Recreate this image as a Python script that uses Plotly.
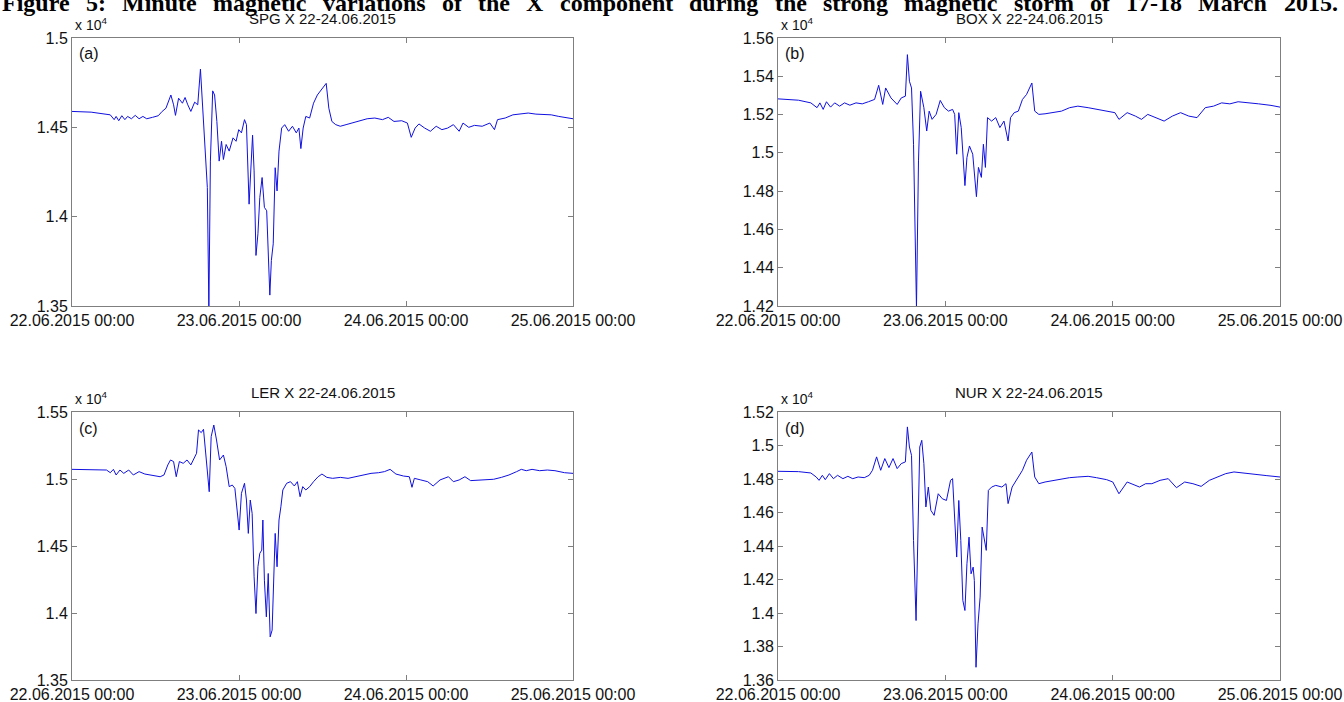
import plotly.graph_objects as go
import pandas as pd

# ---------------- data (hours after 22.06.2015 00:00, X component in nT) ----------------
spg_hours = [0, 2.75, 5.5, 6.06, 6.34, 6.72, 7.16, 7.6, 7.99, 8.54, 9.09, 9.64, 10.19, 10.74, 11.57, 12.4,
             12.95, 13.5, 14.21, 14.6, 14.87, 15.32, 15.87, 16.25, 16.64, 17.08, 17.63, 18.07, 18.46, 18.73,
             19.17, 19.45, 19.67, 19.89, 20.22, 20.49, 20.82, 21.15, 21.49, 21.76, 22.15, 22.59, 23.14, 23.58,
             23.96, 24.35, 24.79, 25.07, 25.45, 25.73, 25.95, 26.17, 26.44, 26.72, 26.99, 27.32, 27.65, 27.98,
             28.26, 28.43, 28.65, 28.92, 29.2, 29.47, 29.75, 30.13, 30.57, 31.13, 31.68, 32.23, 32.61, 32.89,
             33.22, 33.6, 34.15, 34.71, 35.26, 35.81, 36.25, 36.53, 36.91, 37.35, 37.9, 38.56, 39.39, 40.22,
             41.32, 42.42, 43.52, 44.62, 45.45, 46.28, 47.38, 48.2, 48.75, 49.31, 49.86, 50.68, 51.51, 52.34,
             53.16, 53.99, 54.81, 55.64, 56.19, 57.02, 57.84, 58.95, 60.05, 60.71, 61.15, 62.25, 63.36, 64.46,
             65.56, 66.67, 67.77, 68.87, 69.96, 71.07, 72]
spg_x = [14589, 14585, 14570, 14543, 14561, 14537, 14565, 14543, 14561, 14548, 14567, 14548, 14561, 14548, 14556, 14565,
         14589, 14607, 14681, 14626, 14567, 14663, 14635, 14667, 14626, 14589, 14641, 14626, 14826, 14644,
         14311, 14163, 13480, 14311, 14704, 14681, 14533, 14311, 14422, 14320, 14404, 14367, 14441, 14422,
         14487, 14469, 14543, 14515, 14070, 14311, 14456, 14256, 13783, 13904, 14107, 14219, 14052, 14033,
         13718, 13561, 13755, 13848, 14274, 14144, 14367, 14496, 14515, 14478, 14506, 14469, 14496, 14381,
         14496, 14561, 14552, 14635, 14681, 14709, 14737, 14746, 14607, 14533, 14515, 14506, 14515, 14524,
         14537, 14548, 14552, 14543, 14556, 14533, 14537, 14524, 14444, 14496, 14519, 14496, 14478, 14506,
         14487, 14496, 14515, 14478, 14524, 14500, 14511, 14506, 14524, 14487, 14543, 14552, 14570, 14574,
         14580, 14574, 14574, 14570, 14561, 14552, 14548]

box_hours = [0, 2.95, 4.71, 5.6, 6.01, 6.48, 6.95, 7.54, 8.13, 8.84, 9.54, 10.31, 11.19, 12.08, 12.96, 13.85,
             14.44, 15.02, 15.44, 16.2, 17.09, 17.68, 18.27, 18.56, 18.85, 19.15, 19.44, 19.86, 20.15, 20.45,
             20.92, 21.33, 21.68, 22.1, 22.68, 23.27, 23.86, 24.45, 25.04, 25.34, 25.63, 25.93, 26.28, 26.57,
             26.81, 27.1, 27.46, 27.93, 28.16, 28.46, 28.75, 29.17, 29.46, 29.75, 30.05, 30.64, 31.23, 31.82,
             32.41, 33.0, 33.35, 33.88, 34.47, 35.06, 35.65, 36.12, 36.41, 36.82, 37.41, 38.3, 39.48, 40.66,
             41.83, 43.01, 44.48, 45.96, 47.14, 48.32, 48.9, 50.08, 51.26, 52.14, 53.03, 54.21, 55.38, 56.56,
             57.74, 58.92, 60.1, 61.28, 62.46, 63.63, 64.81, 65.99, 67.17, 68.94, 70.71, 72]
box_x = [15282, 15275, 15261, 15236, 15261, 15227, 15267, 15239, 15261, 15244, 15261, 15249, 15261, 15256, 15267, 15279,
         15353, 15253, 15339, 15287, 15253, 15287, 15296, 15513, 15374, 15339, 15045, 14190, 14958, 15322,
         15236, 15114, 15218, 15175, 15201, 15274, 15236, 15218, 15227, 15201, 14993, 15210, 15132, 14941,
         14829, 14976, 15036, 14993, 14906, 14771, 14924, 14872, 15045, 14924, 15184, 15166, 15184, 15132,
         15166, 15062, 15184, 15210, 15218, 15279, 15305, 15339, 15365, 15218, 15201, 15204, 15210, 15218,
         15236, 15244, 15236, 15227, 15218, 15210, 15175, 15210, 15192, 15175, 15201, 15184, 15166, 15192,
         15210, 15192, 15184, 15236, 15244, 15261, 15256, 15267, 15261, 15256, 15248, 15239]

ler_hours = [0, 2.75, 4.96, 5.51, 5.95, 6.34, 6.89, 7.44, 8.15, 8.81, 9.64, 10.47, 11.29, 12.12, 12.67, 13.22,
             13.77, 14.16, 14.6, 14.98, 15.43, 15.98, 16.53, 17.08, 17.52, 17.9, 18.18, 18.57, 18.9, 19.17,
             19.45, 19.72, 20.0, 20.38, 20.77, 21.21, 21.76, 22.15, 22.59, 23.03, 23.41, 23.69, 24.02, 24.35,
             24.79, 25.07, 25.34, 25.62, 25.89, 26.17, 26.44, 26.72, 26.99, 27.27, 27.43, 27.65, 27.93, 28.2,
             28.48, 28.76, 28.98, 29.2, 29.47, 29.75, 30.02, 30.3, 30.85, 31.4, 31.95, 32.39, 32.78, 33.16,
             33.6, 34.16, 34.71, 35.37, 35.92, 36.63, 37.46, 38.56, 39.67, 40.77, 41.87, 42.97, 44.07, 44.9,
             45.72, 46.55, 47.65, 48.48, 48.86, 49.2, 50.13, 51.12, 51.9, 52.89, 54.1, 54.81, 55.64, 56.47,
             57.29, 58.4, 59.5, 60.6, 61.7, 62.8, 63.9, 64.57, 65.28, 66.11, 67.21, 68.31, 69.41, 70.79, 72]
ler_x = [15072, 15072, 15067, 15047, 15072, 15030, 15067, 15042, 15067, 15030, 15055, 15037, 15030, 15022, 15017, 15030,
         15105, 15142, 15130, 15017, 15130, 15117, 15142, 15105, 15154, 15192, 15366, 15346, 15371, 15204,
         15092, 14905, 15316, 15403, 15291, 15142, 15179, 15092, 14943, 14955, 14930, 14768, 14619, 14893,
         14968, 14843, 14594, 14843, 14743, 14270, 13996, 14345, 14445, 14469, 14694, 14245, 13971, 14295,
         13822, 13872, 14245, 14594, 14345, 14694, 14793, 14918, 14968, 14980, 14948, 14980, 14868, 14943,
         14918, 14943, 14980, 15017, 15037, 15012, 15005, 15012, 15005, 15017, 15030, 15042, 15047, 15055,
         15072, 15037, 15022, 15017, 14938, 15005, 14993, 14980, 14948, 14993, 15017, 14980, 14993, 15017,
         14988, 14993, 14998, 14998, 15012, 15030, 15055, 15072, 15062, 15072, 15062, 15067, 15062, 15047, 15042]

nur_hours = [0, 2.95, 4.71, 5.48, 5.89, 6.36, 6.78, 7.37, 7.95, 8.54, 9.31, 10.02, 10.72, 11.49, 12.37, 13.08,
             13.55, 14.14, 14.73, 15.32, 15.91, 16.5, 17.09, 17.68, 18.27, 18.56, 18.85, 19.15, 19.44, 19.8,
             20.03, 20.33, 20.62, 20.92, 21.21, 21.56, 21.92, 22.39, 22.98, 23.57, 24.16, 24.75, 25.04, 25.34,
             25.63, 25.93, 26.22, 26.51, 26.81, 27.1, 27.4, 27.69, 27.99, 28.16, 28.4, 28.69, 28.99, 29.28,
             29.58, 29.87, 30.17, 30.64, 31.23, 32.11, 32.7, 33.0, 33.58, 34.17, 35.06, 35.65, 36.41, 36.82,
             37.41, 38.3, 39.48, 40.66, 41.83, 43.01, 44.48, 45.66, 47.14, 48.02, 48.9, 50.08, 50.97, 51.85,
             52.73, 53.62, 54.8, 55.97, 57.15, 58.33, 59.51, 60.69, 61.87, 63.04, 64.22, 65.4, 66.58, 67.76,
             68.94, 70.12, 72]
nur_x = [14846, 14844, 14836, 14812, 14792, 14822, 14796, 14832, 14802, 14822, 14802, 14816, 14802, 14812, 14808, 14822,
         14852, 14932, 14852, 14922, 14868, 14922, 14862, 14892, 14902, 15111, 14991, 14941, 14433, 13955,
         14394, 14991, 15031, 14892, 14633, 14752, 14613, 14583, 14712, 14682, 14672, 14792, 14802, 14553,
         14334, 14672, 14433, 14075, 14015, 14294, 14453, 14234, 14274, 14194, 13676, 13935, 14095, 14513,
         14433, 14374, 14732, 14752, 14762, 14752, 14772, 14653, 14752, 14792, 14852, 14912, 14961, 14812,
         14772, 14782, 14792, 14802, 14808, 14812, 14816, 14808, 14796, 14782, 14712, 14782, 14768, 14752,
         14772, 14772, 14792, 14802, 14748, 14782, 14772, 14756, 14792, 14812, 14832, 14842, 14836, 14828,
         14822, 14820, 14812]

titles = ["SPG X 22-24.06.2015", "BOX X 22-24.06.2015", "LER X 22-24.06.2015", "NUR X 22-24.06.2015"]
panel_tags = ["(a)", "(b)", "(c)", "(d)"]
y_ticks = [
    [13500, 14000, 14500, 15000],
    [14200, 14400, 14600, 14800, 15000, 15200, 15400, 15600],
    [13500, 14000, 14500, 15000, 15500],
    [13600, 13800, 14000, 14200, 14400, 14600, 14800, 15000, 15200],
]
x_ticks = ["2015-06-22 00:00", "2015-06-23 00:00", "2015-06-24 00:00", "2015-06-25 00:00"]
fig_title = ("Figure 5: Minute magnetic variations of the X component during the strong "
             "magnetic storm of 17-18 March 2015.")

series = [(spg_hours, spg_x), (box_hours, box_x), (ler_hours, ler_x), (nur_hours, nur_x)]

# ---------------- layout geometry (pixels) ----------------
W, H = 1344, 702
boxes = [(72, 573, 38, 306), (778, 1280, 38, 306), (72, 573, 412, 680), (778, 1280, 412, 680)]


def px(x):
    return x / W


def py(y):
    return 1 - y / H


base = pd.Timestamp("2015-06-22 00:00")
fig = go.Figure()
axis_font = dict(family="Liberation Sans, Arial, sans-serif", size=16, color="#111111")
annotations = []

for i, ((hrs, vals), (x0, x1, y0, y1)) in enumerate(zip(series, boxes)):
    n = "" if i == 0 else str(i + 1)
    t = [base + pd.Timedelta(hours=h) for h in hrs]
    fig.add_trace(go.Scatter(x=t, y=vals, mode="lines", xaxis="x" + n, yaxis="y" + n,
                             line=dict(color="#1010e0", width=1), showlegend=False,
                             hoverinfo="skip"))
    yt = y_ticks[i]
    fig.layout["xaxis" + n] = dict(
        domain=[px(x0), px(x1)], anchor="y" + n,
        range=[x_ticks[0], x_ticks[-1]], tickvals=x_ticks, tickformat="%d.%m.%Y %H:%M",
        showline=True, linecolor="#7f7f7f", linewidth=1, mirror="ticks",
        ticks="inside", ticklen=5, tickcolor="#7f7f7f", showgrid=False, zeroline=False,
        tickfont=axis_font, automargin=False)
    fig.layout["yaxis" + n] = dict(
        domain=[py(y1), py(y0)], anchor="x" + n,
        range=[yt[0], yt[-1]], tickvals=yt, ticktext=[f"{v / 1e4:g}" for v in yt],
        showline=True, linecolor="#7f7f7f", linewidth=1, mirror="ticks",
        ticks="inside", ticklen=5, tickcolor="#7f7f7f", showgrid=False, zeroline=False,
        tickfont=axis_font, automargin=False)
    # subplot title
    annotations.append(dict(text=titles[i], x=px((x0 + x1) / 2), y=py(y0 - 20), xref="paper", yref="paper",
                            xanchor="center", yanchor="middle", showarrow=False,
                            font=dict(family="Liberation Sans, Arial, sans-serif", size=15, color="#111111")))
    # exponent label
    annotations.append(dict(text="x 10<sup>4</sup>", x=px(x0 + 1), y=py(y0 - 3), xref="paper", yref="paper",
                            xanchor="left", yanchor="bottom", showarrow=False,
                            font=dict(family="Liberation Sans, Arial, sans-serif", size=14, color="#111111")))
    # panel tag
    annotations.append(dict(text=panel_tags[i], x=px(x0 + 5), y=py(y0 + 16), xref="paper", yref="paper",
                            xanchor="left", yanchor="middle", showarrow=False,
                            font=dict(family="Liberation Sans, Arial, sans-serif", size=16, color="#111111")))

# ---------------- justified figure title (Times-Bold metrics) ----------------
tb_w = {" ": 250, "F": 611, "i": 278, "g": 500, "u": 556, "r": 444, "e": 444, "5": 500, ":": 333, ".": 250,
        "M": 944, "n": 556, "t": 333, "m": 833, "a": 500, "c": 444, "v": 500, "o": 500, "s": 389, "f": 333,
        "h": 556, "X": 722, "p": 556, "d": 556, "1": 500, "7": 500, "-": 333, "8": 500, "2": 500, "0": 500}
fs = 24
words = fig_title.split(" ")
widths = [sum(tb_w.get(c, 500) for c in w) * fs / 1000 for w in words]
gap = (W - 8 - sum(widths)) / (len(words) - 1)
xpos = 0
for w, wd in zip(words, widths):
    annotations.append(dict(text="<b>" + w + "</b>", x=px(xpos), y=py(3), xref="paper", yref="paper",
                            xanchor="left", yanchor="middle", showarrow=False,
                            font=dict(family="Liberation Serif, Times New Roman, serif", size=fs, color="#000000")))
    xpos += wd + gap

fig.update_layout(width=W, height=H, margin=dict(l=0, r=0, t=0, b=0),
                  paper_bgcolor="white", plot_bgcolor="white", annotations=annotations)

fig.write_html("out.html", config={"displayModeBar": False},
               post_script="document.body.style.margin='0';document.body.style.overflow='hidden';")
